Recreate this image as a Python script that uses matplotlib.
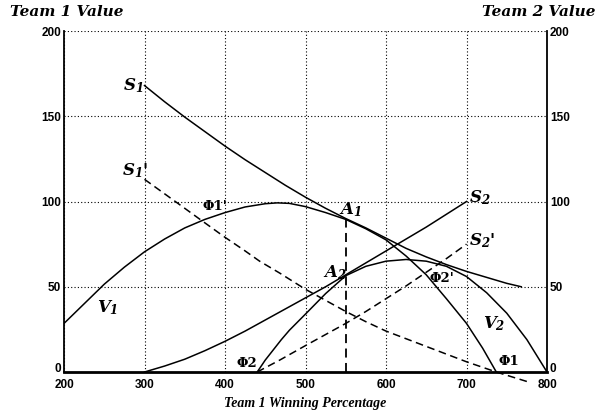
#!/usr/bin/env python3

import matplotlib
matplotlib.use("Agg")
import matplotlib.pyplot as plt

# team 1 winning percentage (x) and values
v1_x = [200, 225, 250, 275, 300, 325, 350, 375, 400, 425, 450, 465, 480, 500,
        525, 550, 575, 600, 625, 650, 675, 700, 720, 737]
v1_y = [28.5, 40, 51.5, 61.5, 70.5, 78, 84.5, 89.5, 93.5, 96.8, 98.7, 99.2, 98.9, 97,
        93.5, 89.5, 84, 77.5, 68, 57, 43, 28.5, 14, 0]

v2_x = [440, 450, 460, 470, 480, 500, 525, 550, 575, 600, 625, 650, 675,
        700, 725, 750, 775, 800]
v2_y = [0, 7, 13, 19, 24.5, 34, 46, 56.5, 62, 65, 66, 65, 62,
        56, 46.5, 34.5, 19, 0]

s1_x = [300, 325, 350, 375, 400, 425, 450, 475, 500, 525, 550, 575, 600,
        625, 650, 675, 700, 725, 750, 768]
s1_y = [168, 158.5, 149.5, 141, 132.5, 124.5, 117, 109.5, 102.5, 96, 90, 84.5, 78.5,
        72.5, 67.5, 63, 59, 55.5, 52, 50]

s1p_x = [300, 325, 350, 369, 400, 425, 443, 468, 500, 525, 550, 575, 600,
         625, 650, 675, 700, 737, 778]
s1p_y = [113, 104.5, 96, 89.5, 79, 71, 65, 58, 48.5, 42, 35.5, 29.5, 24,
         19.5, 15, 10.5, 6, 0, -6]

s2_x = [300, 325, 350, 375, 400, 425, 450, 475, 500, 525, 550, 575, 600,
        625, 650, 675, 700]
s2_y = [0, 3.5, 7.5, 12.5, 18, 24, 30.5, 37, 43.5, 50, 57, 64, 71,
        78, 85, 92.5, 100]

s2p_x = [440, 468, 500, 525, 550, 575, 600, 625, 650, 675, 700]
s2p_y = [0, 7, 15.5, 22, 28.5, 35.5, 43, 50.5, 58.5, 66.5, 75]

a1_x = 550
a1_y = 89.5

x_ticks = [200, 300, 400, 500, 600, 700, 800]
y_ticks = [0, 50, 100, 150, 200]

# curve labels: text, x, y, alignment
labels = [
    (r"$S_1$", 298, 168, "right"),
    (r"$S_1$'", 305, 118, "right"),
    (r"$A_1$", 555, 95, "center"),
    (r"$A_2$", 536, 58, "center"),
    (r"$S_2$", 716, 102, "center"),
    (r"$S_2$'", 719, 77, "center"),
    (r"$V_1$", 254, 38, "center"),
    (r"$V_2$", 734, 28.5, "center"),
]
phi_labels = [
    ("Φ1'", 388, 97),
    ("Φ2'", 670, 55),
    ("Φ1", 753, 6),
    ("Φ2", 427, 5),
]


def build_graph(output_file):
    plt.rcParams["mathtext.fontset"] = "custom"
    plt.rcParams["mathtext.it"] = "DejaVu Serif:italic:bold"
    plt.rcParams["mathtext.rm"] = "DejaVu Serif:italic:bold"

    fig = plt.figure(figsize=(5.96, 4.15), dpi=100)
    ax = fig.add_axes([0.1074, 0.1036, 0.8104, 0.8217])

    ax.set_xlim(200, 800)
    ax.set_ylim(0, 200)

    dash = (0, (5, 3))
    lw = 1.1
    ax.plot(v1_x, v1_y, color="black", lw=lw)
    ax.plot(v2_x, v2_y, color="black", lw=lw)
    ax.plot(s1_x, s1_y, color="black", lw=lw)
    ax.plot(s2_x, s2_y, color="black", lw=lw)
    ax.plot(s1p_x, s1p_y, color="black", lw=lw, linestyle=dash, clip_on=False)
    ax.plot(s2p_x, s2p_y, color="black", lw=lw, linestyle=dash)
    ax.plot([a1_x, a1_x], [0, a1_y], color="black", lw=1.3, linestyle=dash)

    for txt, x, y, ha in labels:
        ax.text(x, y, txt, fontsize=12, ha=ha, va="center",
                family="DejaVu Serif", fontstyle="italic", fontweight="bold")
    for txt, x, y in phi_labels:
        ax.text(x, y, txt, fontsize=9.5, ha="center", va="center",
                family="DejaVu Serif", fontweight="bold")

    # grid
    ax.set_xticks(x_ticks)
    ax.set_yticks(y_ticks)
    ax.grid(True, color="black", linestyle=(0, (1, 2)), linewidth=0.8)
    ax.set_axisbelow(True)

    ax.spines["top"].set_visible(False)
    ax.spines["left"].set_linewidth(1.3)
    ax.spines["right"].set_linewidth(1.3)
    ax.spines["bottom"].set_linewidth(2.0)

    tick_font = {"family": "Liberation Sans", "weight": "bold", "size": 8.5}
    ax.set_xticklabels([str(t) for t in x_ticks], fontdict=tick_font)
    ax.set_yticklabels([str(t) for t in y_ticks], fontdict=tick_font)
    ax.tick_params(axis="x", length=0, pad=5)
    ax.tick_params(axis="y", length=0, pad=2)
    # zero labels sit on the axis line, above the x tick labels
    ax.get_yticklabels()[0].set_verticalalignment("baseline")

    ax2 = ax.twinx()
    ax2.set_ylim(0, 200)
    ax2.set_yticks(y_ticks)
    ax2.set_yticklabels([str(t) for t in y_ticks], fontdict=tick_font)
    ax2.tick_params(length=0, pad=2)
    ax2.get_yticklabels()[0].set_verticalalignment("baseline")
    for s in ax2.spines.values():
        s.set_visible(False)

    ax.set_xlabel("Team 1 Winning Percentage", family="Liberation Serif",
                  fontstyle="italic", fontweight="bold", fontsize=10, labelpad=4)

    fig.text(0.017, 0.971, "Team 1 Value", family="DejaVu Serif",
             fontstyle="italic", fontweight="bold", fontsize=11,
             ha="left", va="center")
    fig.text(1.0, 0.971, "Team 2 Value", family="DejaVu Serif",
             fontstyle="italic", fontweight="bold", fontsize=11,
             ha="right", va="center")

    fig.savefig(output_file, dpi=100)


if __name__ == "__main__":
    build_graph("out.png")
